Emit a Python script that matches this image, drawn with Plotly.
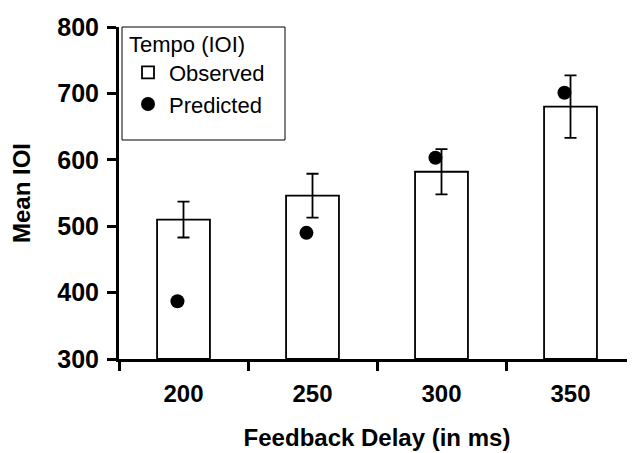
import plotly.graph_objects as go

categories = ["200", "250", "300", "350"]
observed = [510, 546, 582, 680]
observed_err = [27, 33, 34, 47]
predicted = [387, 490, 603, 701]

# page body has an 8px margin, so the figure is sized 8px smaller
W, H = 627, 445
L, T, R, B = 111, 19, 0, 94
PW, PH = W - L - R, H - T - B

fig = go.Figure()
fig.add_trace(go.Bar(
    x=categories, y=[v - 300 for v in observed], base=300,
    name="Observed", width=0.41,
    marker=dict(color="white", line=dict(color="black", width=1.8)),
    error_y=dict(type="data", array=observed_err, color="black", thickness=1.8, width=6),
))
fig.add_trace(go.Scatter(
    x=categories, y=predicted, mode="markers", name="Predicted",
    xaxis="x2",
    marker=dict(color="black", size=14, symbol="circle"),
))

# legend frame
fig.add_shape(type="rect", xref="paper", yref="paper",
              x0=3 / PW, x1=166 / PW, y0=1 - 113 / PH, y1=1,
              line=dict(color="black", width=1), fillcolor="white", layer="below")

fig.update_layout(
    width=W, height=H,
    margin=dict(l=L, r=R, t=T, b=B),
    plot_bgcolor="white", paper_bgcolor="white",
    font=dict(family="Liberation Sans, Arial, sans-serif", color="black"),
    showlegend=True,
    legend=dict(
        title=dict(text="Tempo (IOI)", font=dict(size=22)),
        font=dict(size=22),
        x=8 / PW, y=1 + 4 / PH, xanchor="left", yanchor="top",
        borderwidth=0, bgcolor="rgba(0,0,0,0)",
        itemwidth=32,
    ),
    xaxis2=dict(type="category", overlaying="x", visible=False,
                range=[-0.5 + 0.047, 3.5 + 0.047], showgrid=False, zeroline=False),
    xaxis=dict(
        type="category", range=[-0.5, 3.5], showline=True, linecolor="black", linewidth=3,
        ticks="outside", ticklen=9, tickwidth=3, tickcolor="black",
        tickson="boundaries", ticklabelstandoff=11, automargin=False,
        tickfont=dict(size=24, weight="bold"),
        title=dict(text="Feedback Delay (in ms)", font=dict(size=24, weight="bold"), standoff=24),
        showgrid=False, zeroline=False,
    ),
)
fig.update_yaxes(
    range=[300, 800], tickvals=[300, 400, 500, 600, 700, 800],
    showline=True, linecolor="black", linewidth=3,
    ticks="outside", ticklen=9, tickwidth=3, tickcolor="black",
    ticklabelstandoff=3, automargin=False,
    tickfont=dict(size=25, weight="bold"),
    title=dict(text="Mean IOI", font=dict(size=24, weight="bold"), standoff=20),
    showgrid=False, zeroline=False,
)

fig.write_html("out.html")
